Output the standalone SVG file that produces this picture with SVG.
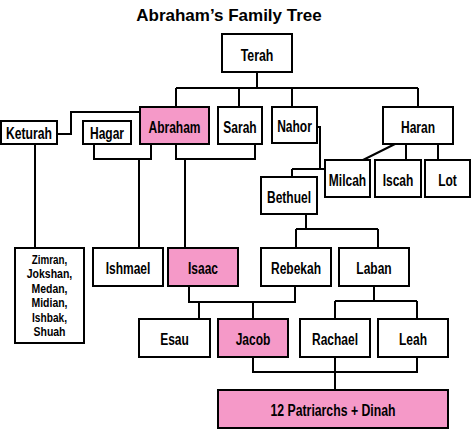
<svg xmlns="http://www.w3.org/2000/svg" width="474" height="429" viewBox="0 0 474 429">
<style>
  .box { fill: #ffffff; stroke: #000000; stroke-width: 2; }
  .pink { fill: #F599C8; }
  .lbl { font-family: "Liberation Sans Narrow", "Liberation Sans", Arial, sans-serif; font-weight: bold; font-size: 16px; text-anchor: middle; fill: #000000; }
  .small { font-size: 13px; }
  .title { font-family: "Liberation Sans", Arial, sans-serif; font-weight: bold; font-size: 17px; text-anchor: middle; fill: #000000; }
  .conn { fill: none; stroke: #000000; stroke-width: 2; }
</style>
<rect width="474" height="429" fill="#ffffff"/>
<text class="title" x="229" y="21">Abraham’s Family Tree</text>

<g id="connectors" class="conn">
  <path d="M257,72 V88 M176,88 H418 M176,88 V107 M239,88 V107 M292,88 V107 M418,88 V107"/>
  <path d="M57,134 H71 V112 H140"/>
  <path d="M94,144 V159 H151 V144 M139,159 V248"/>
  <path d="M176,144 V159 H255 V144 M185,159 V248"/>
  <path d="M35,144 V248"/>
  <path d="M317,127 H320 V169 H325 M292,169 H320 M292,169 V177"/>
  <path d="M395,144 L363,160"/>
  <path d="M406,144 V160 M438,144 V160"/>
  <path d="M306,214 V229 M296,229 H378 M296,229 V248 M378,229 V248"/>
  <path d="M189,286 V302 H295 V286 M199,302 V319 M253,302 V319"/>
  <path d="M374,286 V301 M335,301 H417 M335,301 V319 M417,301 V319"/>
  <path d="M253,357 V372 H417 V357 M335,357 V390"/>
</g>

<g id="terah"><rect class="box" x="222" y="34" width="70" height="38"/><text class="lbl" x="257" y="61" textLength="32.7" lengthAdjust="spacingAndGlyphs">Terah</text></g>
<g id="abraham"><rect class="box pink" x="140" y="107" width="69" height="37"/><text class="lbl" x="174.5" y="133" textLength="52" lengthAdjust="spacingAndGlyphs">Abraham</text></g>
<g id="sarah"><rect class="box" x="218" y="107" width="44" height="37"/><text class="lbl" x="240" y="133" textLength="33.3" lengthAdjust="spacingAndGlyphs">Sarah</text></g>
<g id="nahor"><rect class="box" x="272" y="107" width="45" height="36"/><text class="lbl" x="294.5" y="132" textLength="34.7" lengthAdjust="spacingAndGlyphs">Nahor</text></g>
<g id="haran"><rect class="box" x="383" y="107" width="70" height="37"/><text class="lbl" x="418" y="133" textLength="34" lengthAdjust="spacingAndGlyphs">Haran</text></g>
<g id="keturah"><rect class="box" x="1" y="121" width="56" height="23"/><text class="lbl" x="29" y="139" textLength="46" lengthAdjust="spacingAndGlyphs">Keturah</text></g>
<g id="hagar"><rect class="box" x="83" y="121" width="48" height="23"/><text class="lbl" x="107" y="139" textLength="34" lengthAdjust="spacingAndGlyphs">Hagar</text></g>
<g id="milcah"><rect class="box" x="325" y="160" width="45" height="37"/><text class="lbl" x="347.5" y="186" textLength="37.3" lengthAdjust="spacingAndGlyphs">Milcah</text></g>
<g id="iscah"><rect class="box" x="375" y="160" width="46" height="37"/><text class="lbl" x="398" y="186" textLength="30.7" lengthAdjust="spacingAndGlyphs">Iscah</text></g>
<g id="lot"><rect class="box" x="425" y="160" width="45" height="37"/><text class="lbl" x="447.5" y="186" textLength="18.7" lengthAdjust="spacingAndGlyphs">Lot</text></g>
<g id="bethuel"><rect class="box" x="261" y="177" width="56" height="37"/><text class="lbl" x="289" y="203" textLength="44" lengthAdjust="spacingAndGlyphs">Bethuel</text></g>
<g id="keturah-sons"><rect class="box" x="15" y="248" width="69" height="95"/>
  <text class="lbl small" x="49.5" y="264" textLength="35.5" lengthAdjust="spacingAndGlyphs">Zimran,</text>
  <text class="lbl small" x="49.5" y="278.4" textLength="45.5" lengthAdjust="spacingAndGlyphs">Jokshan,</text>
  <text class="lbl small" x="49.5" y="292.8" textLength="36" lengthAdjust="spacingAndGlyphs">Medan,</text>
  <text class="lbl small" x="49.5" y="307.2" textLength="36" lengthAdjust="spacingAndGlyphs">Midian,</text>
  <text class="lbl small" x="49.5" y="321.6" textLength="35" lengthAdjust="spacingAndGlyphs">Ishbak,</text>
  <text class="lbl small" x="49.5" y="336" textLength="32" lengthAdjust="spacingAndGlyphs">Shuah</text>
</g>
<g id="ishmael"><rect class="box" x="93" y="248" width="70" height="38"/><text class="lbl" x="128" y="274" textLength="44.7" lengthAdjust="spacingAndGlyphs">Ishmael</text></g>
<g id="isaac"><rect class="box pink" x="168" y="248" width="70" height="38"/><text class="lbl" x="203" y="274" textLength="30" lengthAdjust="spacingAndGlyphs">Isaac</text></g>
<g id="rebekah"><rect class="box" x="261" y="248" width="70" height="38"/><text class="lbl" x="296" y="274" textLength="50" lengthAdjust="spacingAndGlyphs">Rebekah</text></g>
<g id="laban"><rect class="box" x="339" y="248" width="70" height="38"/><text class="lbl" x="374" y="274" textLength="35.3" lengthAdjust="spacingAndGlyphs">Laban</text></g>
<g id="esau"><rect class="box" x="139" y="319" width="71" height="38"/><text class="lbl" x="174.5" y="345" textLength="28.7" lengthAdjust="spacingAndGlyphs">Esau</text></g>
<g id="jacob"><rect class="box pink" x="218" y="319" width="70" height="38"/><text class="lbl" x="253" y="345" textLength="34.7" lengthAdjust="spacingAndGlyphs">Jacob</text></g>
<g id="rachael"><rect class="box" x="300" y="319" width="70" height="38"/><text class="lbl" x="335" y="345" textLength="46" lengthAdjust="spacingAndGlyphs">Rachael</text></g>
<g id="leah"><rect class="box" x="378" y="319" width="70" height="38"/><text class="lbl" x="413" y="345" textLength="28" lengthAdjust="spacingAndGlyphs">Leah</text></g>
<g id="patriarchs"><rect class="box pink" x="218" y="390" width="230" height="38"/><text class="lbl" x="333" y="416" textLength="125" lengthAdjust="spacingAndGlyphs">12 Patriarchs + Dinah</text></g>
</svg>
